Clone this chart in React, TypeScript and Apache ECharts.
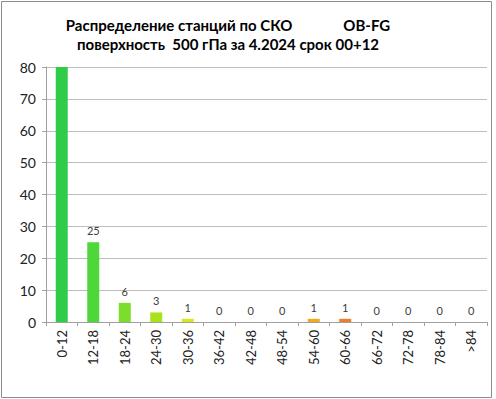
import React, { useEffect, useRef } from "react";
import * as echarts from "echarts";

const categories = ["0-12","12-18","18-24","24-30","30-36","36-42","42-48","48-54","54-60","60-66","66-72","72-78","78-84",">84"];
const values = [90, 25, 6, 3, 1, 0, 0, 0, 1, 1, 0, 0, 0, 0];
const barColors = ["#2ecc48","#4ed63a","#7ade2a","#a8e21c","#d6ea1a","#e8e020","#f0d020","#f4c020","#f5a623","#f07a30","#ec6030","#e84830","#e43030","#e02020"];
const titleLine1 = "Распределение станций по СКО              OB-FG";
const titleLine2 = "поверхность  500 гПа за 4.2024 срок 00+12";
const yMax = 80;
const yStep = 10;

export default function App() {
  const ref = useRef<HTMLDivElement>(null);
  useEffect(() => {
    const chart = echarts.init(ref.current!, undefined, { renderer: "svg" });
    chart.setOption({
      animation: false,
      backgroundColor: "#ffffff",
      textStyle: { fontFamily: "Lato, 'Open Sans', sans-serif" },
      graphic: [
        { type: "rect", shape: { x: 1.5, y: 1.5, width: 490, height: 396 }, style: { fill: "none", stroke: "#8c8c8c", lineWidth: 1 }, z: 10 },
        { type: "text", x: 228, y: 25, style: { text: titleLine1, font: "bold 15px Lato, 'Open Sans', sans-serif", fill: "#000", textAlign: "center", textVerticalAlign: "middle" } },
        { type: "text", x: 228, y: 44, style: { text: titleLine2, font: "bold 15px Lato, 'Open Sans', sans-serif", fill: "#000", textAlign: "center", textVerticalAlign: "middle" } },
      ],
      grid: { left: 46, right: 9, top: 67, bottom: 77, containLabel: false },
      xAxis: {
        type: "category",
        data: categories,
        axisLine: { lineStyle: { color: "#a0a0a0" } },
        axisTick: { show: true, alignWithLabel: false, length: 4, lineStyle: { color: "#a0a0a0" } },
        axisLabel: { rotate: 90, fontSize: 13, color: "#222", margin: 8 },
      },
      yAxis: {
        type: "value",
        min: 0,
        max: yMax,
        interval: yStep,
        axisLine: { show: true, lineStyle: { color: "#a0a0a0" } },
        axisTick: { show: true, length: 4, lineStyle: { color: "#a0a0a0" } },
        axisLabel: { fontSize: 14, color: "#222", margin: 10 },
        splitLine: { lineStyle: { color: "#bdbdbd" } },
      },
      series: [
        {
          type: "bar",
          data: values.map((v, i) => ({
            value: v,
            itemStyle: { color: barColors[i] },
            label: { show: v <= yMax },
          })),
          barWidth: 12,
          clip: true,
          label: { position: "top", distance: 6, fontSize: 11, color: "#404040" },
        },
      ],
    });
    return () => chart.dispose();
  }, []);
  return <div ref={ref} style={{ position: "absolute", left: 0, top: 0, width: 496, height: 399 }} />;
}
